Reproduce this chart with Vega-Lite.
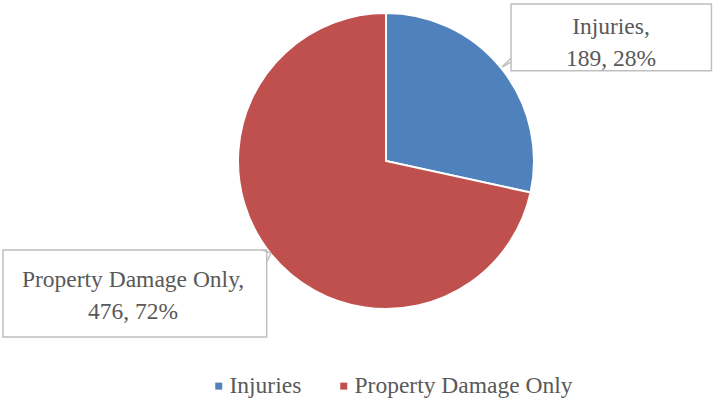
{
  "$schema": "https://vega.github.io/schema/vega-lite/v6.json",
  "autosize": {"type": "none"},
  "width": 296,
  "height": 296,
  "padding": {"left": 238, "top": 13, "right": 179, "bottom": 93},
  "background": "white",
  "config": {"view": {"stroke": null}, "font": "Liberation Serif, Times New Roman, DejaVu Serif, serif"},
  "data": {"values": [
    {"category": "Injuries", "count": 189, "label": ["Injuries,", "189, 28%"]},
    {"category": "Property Damage Only", "count": 476, "label": ["Property Damage Only,", "476, 72%"]}
  ]},
  "layer": [
    {
      "mark": {"type": "arc", "stroke": "white", "strokeWidth": 2, "outerRadius": 148},
      "encoding": {
        "theta": {"field": "count", "type": "quantitative", "stack": true},
        "color": {
          "field": "category", "type": "nominal",
          "scale": {"domain": ["Injuries", "Property Damage Only"], "range": ["#4F81BD", "#C0504D"]},
          "legend": {
            "title": null, "orient": "none", "direction": "horizontal", "columns": 2,
            "legendX": -31, "legendY": 361, "padding": 0,
            "symbolType": "square", "symbolSize": 49, "symbolStrokeWidth": 0,
            "labelFont": "Liberation Serif, Times New Roman, DejaVu Serif, serif", "labelFontSize": 23.5, "labelColor": "#595959",
            "labelOffset": -1, "columnPadding": 30, "labelLimit": 400
          }
        },
        "order": {"field": "category", "sort": "ascending"}
      }
    },
    {
      "transform": [{"filter": "datum.category === 'Injuries'"}],
      "mark": {"type": "rect", "fill": "white", "stroke": "#BFBFBF", "strokeWidth": 1.5},
      "encoding": {
        "x": {"datum": 0.845, "type": "quantitative", "scale": {"domain": [-1, 1], "nice": false, "zero": false}, "axis": null},
        "x2": {"datum": 2.199},
        "y": {"datum": 1.061, "type": "quantitative", "scale": {"domain": [-1, 1], "nice": false, "zero": false}, "axis": null},
        "y2": {"datum": 0.610}
      }
    },
    {
      "transform": [{"filter": "datum.category === 'Property Damage Only'"}],
      "mark": {"type": "rect", "fill": "white", "stroke": "#BFBFBF", "strokeWidth": 1.5},
      "encoding": {
        "x": {"datum": -2.588, "type": "quantitative"},
        "x2": {"datum": -0.806},
        "y": {"datum": -0.601, "type": "quantitative"},
        "y2": {"datum": -1.189}
      }
    },
    {
      "transform": [{"filter": "datum.category === 'Injuries'"}],
      "mark": {"type": "rule", "stroke": "#BFBFBF", "strokeWidth": 1.5},
      "encoding": {
        "x": {"datum": 0.845, "type": "quantitative"},
        "y": {"datum": 0.696, "type": "quantitative"},
        "x2": {"datum": 0.784},
        "y2": {"datum": 0.635}
      }
    },
    {
      "transform": [{"filter": "datum.category === 'Injuries'"}],
      "mark": {"type": "rule", "stroke": "#BFBFBF", "strokeWidth": 1.5},
      "encoding": {
        "x": {"datum": 0.784, "type": "quantitative"},
        "y": {"datum": 0.635, "type": "quantitative"},
        "x2": {"datum": 0.845},
        "y2": {"datum": 0.669}
      }
    },
    {
      "transform": [{"filter": "datum.category === 'Property Damage Only'"}],
      "mark": {"type": "rule", "stroke": "#BFBFBF", "strokeWidth": 1.5},
      "encoding": {
        "x": {"datum": -0.838, "type": "quantitative"},
        "y": {"datum": -0.601, "type": "quantitative"},
        "x2": {"datum": -0.777},
        "y2": {"datum": -0.622}
      }
    },
    {
      "transform": [{"filter": "datum.category === 'Property Damage Only'"}],
      "mark": {"type": "rule", "stroke": "#BFBFBF", "strokeWidth": 1.5},
      "encoding": {
        "x": {"datum": -0.777, "type": "quantitative"},
        "y": {"datum": -0.622, "type": "quantitative"},
        "x2": {"datum": -0.806},
        "y2": {"datum": -0.682}
      }
    },
    {
      "transform": [{"filter": "datum.category === 'Injuries'"}],
      "mark": {"type": "text", "font": "Liberation Serif, Times New Roman, DejaVu Serif, serif", "fontSize": 23.5, "color": "#595959", "align": "center", "baseline": "alphabetic", "lineHeight": 32},
      "encoding": {
        "x": {"datum": 1.520, "type": "quantitative"},
        "y": {"datum": 0.856, "type": "quantitative"},
        "text": {"field": "label"}
      }
    },
    {
      "transform": [{"filter": "datum.category === 'Property Damage Only'"}],
      "mark": {"type": "text", "font": "Liberation Serif, Times New Roman, DejaVu Serif, serif", "fontSize": 23.5, "color": "#595959", "align": "center", "baseline": "alphabetic", "lineHeight": 32},
      "encoding": {
        "x": {"datum": -1.709, "type": "quantitative"},
        "y": {"datum": -0.849, "type": "quantitative"},
        "text": {"field": "label"}
      }
    }
  ],
  "resolve": {"scale": {"color": "shared"}}
}
